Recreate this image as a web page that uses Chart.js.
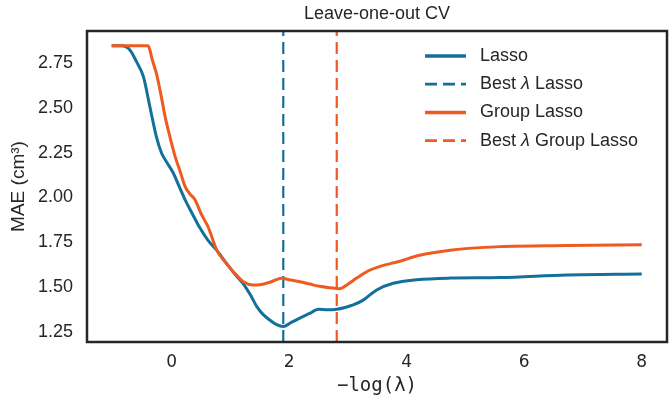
<!DOCTYPE html>
<html>
<head>
<meta charset="utf-8">
<script src="https://cdn.jsdelivr.net/npm/chart.js@4/dist/chart.umd.min.js"></script>
<style>
  html, body { margin: 0; padding: 0; background: #ffffff; }
  #wrap { width: 671px; height: 403px; }
</style>
</head>
<body>
<div id="wrap"><canvas id="c" width="671" height="403"></canvas></div>
<script>
// ---- data ----
const lassoX = [-1.02,-0.85,-0.71,-0.60,-0.48,-0.37,-0.26,-0.17,-0.07,0.03,0.13,0.23,0.35,0.48,0.62,0.77,0.94,1.08,1.22,1.35,1.45,1.56,1.67,1.78,1.90,2.03,2.18,2.34,2.50,2.65,2.81,2.95,3.09,3.26,3.49,3.77,4.17,4.74,5.59,6.72,8.00];
const lassoY = [2.847,2.847,2.824,2.76,2.675,2.507,2.34,2.247,2.19,2.135,2.06,1.986,1.91,1.83,1.76,1.704,1.629,1.57,1.517,1.45,1.39,1.345,1.315,1.29,1.278,1.30,1.325,1.35,1.375,1.372,1.375,1.385,1.399,1.426,1.483,1.52,1.54,1.549,1.552,1.567,1.572];
const groupX = [-1.02,-0.40,-0.33,-0.26,-0.18,-0.11,-0.03,0.06,0.15,0.23,0.31,0.40,0.50,0.62,0.77,0.91,1.05,1.22,1.39,1.55,1.70,1.87,2.02,2.18,2.35,2.52,2.70,2.86,3.00,3.15,3.35,3.55,3.90,4.20,4.74,5.59,6.72,8.00];
const groupY = [2.848,2.848,2.77,2.694,2.57,2.45,2.34,2.228,2.14,2.06,2.02,1.986,1.91,1.836,1.704,1.64,1.585,1.529,1.51,1.515,1.529,1.548,1.538,1.529,1.516,1.503,1.495,1.49,1.515,1.549,1.59,1.615,1.645,1.675,1.705,1.725,1.731,1.735];
const bestLambda = [1.90, 2.81];            // Lasso, Group Lasso
const seriesLabels = ['Lasso', 'Best λ Lasso', 'Group Lasso', 'Best λ Group Lasso'];
const chartTitle = 'Leave-one-out CV';
const xTicks = [0, 2, 4, 6, 8];
const yTicks = [1.25, 1.50, 1.75, 2.00, 2.25, 2.50, 2.75];
const xRange = [-1.44, 8.43];
const yRange = [1.192, 2.93];

const BLUE = '#12709b';
const ORANGE = '#ef5a20';
const SANS = "'Liberation Sans', Arial, sans-serif";

const pts = (xs, ys) => xs.map((x, i) => ({x: x, y: ys[i]}));
const vline = (x) => [{x: x, y: yRange[0]}, {x: x, y: yRange[1]}];

const framePlugin = {
  id: 'frame',
  afterDraw(chart) {
    const {ctx, chartArea: a} = chart;
    ctx.save();
    ctx.strokeStyle = '#262626';
    ctx.lineWidth = 2.5;
    ctx.strokeRect(a.left, a.top, a.right - a.left, a.bottom - a.top);
    // title centred over the plotting area
    ctx.fillStyle = '#262626';
    ctx.font = '18px ' + SANS;
    ctx.textAlign = 'center';
    ctx.textBaseline = 'middle';
    ctx.fillText(chartTitle, (a.left + a.right) / 2, 14);
    ctx.restore();
  }
};

const legendPlugin = {
  id: 'insideLegend',
  afterDraw(chart) {
    const {ctx, chartArea: a} = chart;
    const x0 = a.right - 242;
    ctx.save();
    chart.data.datasets.forEach((ds, i) => {
      const y = a.top + 25 + i * 28.2;
      ctx.strokeStyle = ds.borderColor;
      ctx.lineWidth = ds.borderWidth + 0.5;
      ctx.setLineDash(ds.borderDash || []);
      ctx.beginPath();
      ctx.moveTo(x0, y);
      ctx.lineTo(x0 + 41, y);
      ctx.stroke();
      ctx.setLineDash([]);
      ctx.fillStyle = '#262626';
      ctx.textBaseline = 'middle';
      let tx = x0 + 55;
      const parts = ds.label.split('λ');
      parts.forEach((p, k) => {
        ctx.font = '18px ' + SANS;
        ctx.fillText(p, tx, y);
        tx += ctx.measureText(p).width;
        if (k < parts.length - 1) {
          ctx.font = 'italic 18px ' + SANS;
          ctx.fillText('λ', tx, y);
          tx += ctx.measureText('λ').width;
        }
      });
    });
    ctx.restore();
  }
};

new Chart(document.getElementById('c'), {
  type: 'line',
  data: {
    datasets: [
      { label: seriesLabels[0], data: pts(lassoX, lassoY), borderColor: BLUE, borderWidth: 3, pointRadius: 0, cubicInterpolationMode: 'monotone', order: 4 },
      { label: seriesLabels[1], data: vline(bestLambda[0]), borderColor: BLUE, borderWidth: 2.2, borderDash: [12, 6], pointRadius: 0, order: 3 },
      { label: seriesLabels[2], data: pts(groupX, groupY), borderColor: ORANGE, borderWidth: 3, pointRadius: 0, cubicInterpolationMode: 'monotone', order: 2 },
      { label: seriesLabels[3], data: vline(bestLambda[1]), borderColor: ORANGE, borderWidth: 2.2, borderDash: [12, 6], pointRadius: 0, order: 1 }
    ]
  },
  options: {
    responsive: false,
    animation: false,
    devicePixelRatio: 1,
    layout: { padding: { left: 0, right: 4, top: 31, bottom: 0 } },
    plugins: {
      legend: { display: false },
      tooltip: { enabled: false },
      title: { display: false }
    },
    scales: {
      x: {
        type: 'linear',
        min: xRange[0], max: xRange[1],
        grid: { display: false, drawTicks: false },
        border: { display: false },
        afterBuildTicks: (s) => { s.ticks = xTicks.map(v => ({value: v})); },
        afterFit: (s) => { s.height = 61; s.paddingLeft = 0; s.paddingRight = 0; },
        ticks: {
          color: '#262626',
          padding: 10,
          maxRotation: 0,
          font: { family: "'DejaVu Sans', sans-serif", size: 17 },
          callback: (v) => String(v)
        },
        title: {
          display: true,
          text: '−log(λ)',
          color: '#262626',
          font: { family: "'DejaVu Sans Mono', monospace", size: 19 },
          padding: { top: 0, bottom: 6 }
        }
      },
      y: {
        type: 'linear',
        min: yRange[0], max: yRange[1],
        grid: { display: false, drawTicks: false },
        border: { display: false },
        afterBuildTicks: (s) => { s.ticks = yTicks.map(v => ({value: v})); },
        afterFit: (s) => { s.width = 87; s.paddingTop = 0; s.paddingBottom = 0; },
        ticks: {
          color: '#262626',
          padding: 14,
          font: { family: SANS, size: 18 },
          callback: (v) => Number(v).toFixed(2)
        },
        title: {
          display: true,
          text: 'MAE (cm³)',
          color: '#262626',
          font: { family: SANS, size: 19 },
          padding: { top: 7, bottom: 0 }
        }
      }
    }
  },
  plugins: [framePlugin, legendPlugin]
});
</script>
</body>
</html>
